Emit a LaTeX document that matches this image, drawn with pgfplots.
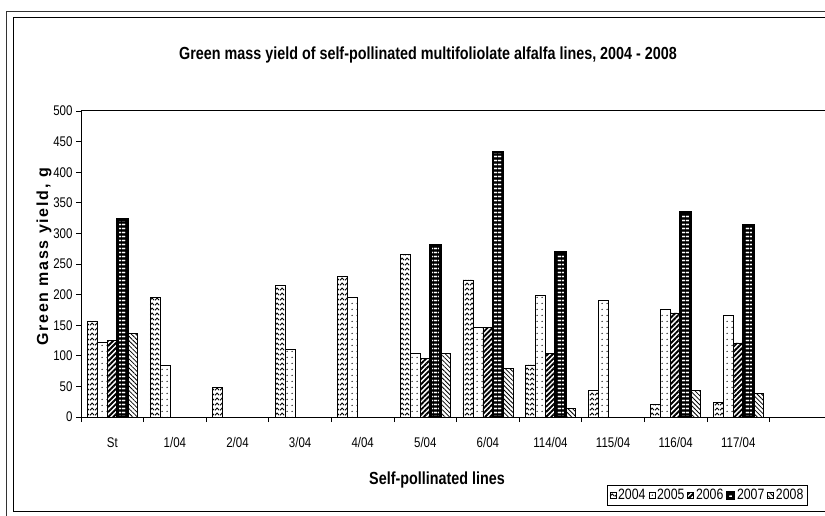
\documentclass[border=0pt]{standalone}
\usepackage{pgfplots}
\pgfplotsset{compat=1.18}
\usepackage{fontspec}
\setmainfont{Liberation Sans}[FakeStretch=0.82]
\newfontfamily\ylabfont{Liberation Sans}[LetterSpace=11]
\usetikzlibrary{patterns,patterns.meta}

% hatch fills imitating the Excel patterns
\pgfdeclarepatternformonly{chevrons}{\pgfpointorigin}{\pgfpoint{5pt}{4.5pt}}{\pgfpoint{5pt}{4.5pt}}{%
  \pgfsetlinewidth{1pt}%
  \pgfpathmoveto{\pgfpoint{0pt}{0.8pt}}%
  \pgfpathlineto{\pgfpoint{2.5pt}{3.3pt}}%
  \pgfpathlineto{\pgfpoint{5pt}{0.8pt}}%
  \pgfusepath{stroke}}
\pgfdeclarepatternformonly{sparsedots}{\pgfpointorigin}{\pgfpoint{5pt}{6pt}}{\pgfpoint{5pt}{6pt}}{%
  \pgfpathcircle{\pgfpoint{2.5pt}{3pt}}{0.8pt}%
  \pgfusepath{fill}}

\begin{document}
\begin{tikzpicture}
\useasboundingbox (0,0) rectangle (825pt,515pt);
\draw[line width=0.6pt,black!80] (6pt,-5pt) rectangle (840pt,504pt);
\draw[line width=1pt] (13pt,4pt) rectangle (835pt,497pt);

\begin{axis}[
  at={(81pt,98pt)}, anchor=south west,
  scale only axis,
  width=744pt, height=306pt,
  ybar=0pt, bar width=10pt,
  xmin=-0.5, xmax=11.385,
  ymin=0, ymax=500,
  ytick={0,50,...,500},
  xtick={-0.5,0.5,1.5,2.5,3.5,4.5,5.5,6.5,7.5,8.5,9.5,10.5},
  x tick label as interval,
  xticklabels={St,1/04,2/04,3/04,4/04,5/04,6/04,114/04,115/04,116/04,117/04},
  tick align=outside,
  major tick length=5pt,
  tick style={black, line width=0.8pt},
  axis x line*=bottom, axis y line*=left,
  axis line style={line width=1pt, -},
  ticklabel style={font=\fontsize{14pt}{16pt}\selectfont},
  xticklabel style={yshift=-12pt},
  /pgf/number format/assume math mode=true,
  legend columns=-1,
  legend style={at={(axis description cs:0.842,-0.2565)}, anchor=center,
    draw=black, line width=0.8pt, inner sep=2pt,
    font=\fontsize{15pt}{17pt}\selectfont,
    /tikz/every even column/.append style={column sep=1pt}},
  legend image code/.code={\draw[#1, line width=0.6pt] (0pt,-3pt) rectangle (6pt,3pt);},
  every axis plot/.append style={draw=black, line width=0.8pt},
]
\addplot[pattern=chevrons] coordinates
  {(0,157) (1,196) (2,49) (3,215) (4,229) (5,266) (6,224) (7,85) (8,44) (9,20) (10,24)};
\addplot[pattern=sparsedots] coordinates
  {(0,122) (1,85) (3,111) (4,195) (5,104) (6,147) (7,198) (8,191) (9,176) (10,166)};
\addplot[pattern={Lines[angle=45,distance=3.6pt,line width=1.9pt]}] coordinates
  {(0,125) (5,96) (6,147) (7,104) (9,170) (10,121)};
\addplot[preaction={fill=black},
  pattern={Lines[angle=0,distance=4pt,line width=1.6pt]}, pattern color=white,
  postaction={draw=black, line width=2.6pt}] coordinates
  {(0,323) (5,280) (6,433) (7,269) (9,334) (10,314)};
\addplot[pattern={Lines[angle=-45,distance=3.2pt,line width=0.8pt]}] coordinates
  {(0,137) (5,104) (6,80) (7,14) (9,44) (10,39)};
\legend{2004,2005,2006,2007,2008}
\draw[line width=1pt] (rel axis cs:0,1) -- (rel axis cs:1,1);
\end{axis}

\node[font=\bfseries\fontsize{17.5pt}{20pt}\selectfont] at (428pt,460pt)
  {Green mass yield of self-pollinated multifoliolate alfalfa lines, 2004 - 2008};
\node[font=\bfseries\fontsize{17.5pt}{20pt}\selectfont] at (437pt,35pt)
  {Self-pollinated lines};
\node[rotate=90, font=\ylabfont\bfseries\fontsize{16pt}{18pt}\selectfont] at (44pt,258pt)
  {Green mass yield, g};
\end{tikzpicture}
\end{document}
